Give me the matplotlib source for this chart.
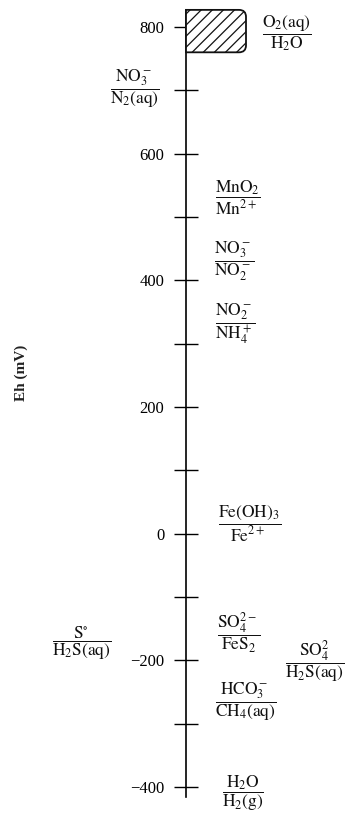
# Redox ladder: Eh (mV) of common redox couples
import matplotlib.pyplot as plt
import numpy as np
from matplotlib.path import Path
from matplotlib.patches import PathPatch

plt.rcParams['font.family'] = ['Liberation Serif', 'DejaVu Serif']
plt.rcParams['mathtext.fontset'] = 'stix'
plt.rcParams['hatch.linewidth'] = 0.9

# Couples: numerator / denominator, Eh where the label sits (mV)
numerators = ['O_2(aq)', 'NO_3^-', 'MnO_2', 'NO_3^-', 'NO_2^-', 'Fe(OH)_3',
              'SO_4^{2-}', 'S^{\\circ}', 'SO_4^2', 'HCO_3^-', 'H_2O']
denominators = ['H_2O', 'N_2(aq)', 'Mn^{2+}', 'NO_2^-', 'NH_4^+', 'Fe^{2+}',
                'FeS_2', 'H_2S(aq)', 'H_2S(aq)', 'CH_4(aq)', 'H_2(g)']
eh_values = [790, 702, 531, 429, 332, 16, -156, -173, -203, -266, -410]
label_x = [287, 135, 238, 234, 235, 250, 239, 82, 315, 246, 243]

# O2(aq)/H2O range shown as hatched box (mV)
o2_range = [760, 827]

# Axis ticks
tick_values = np.arange(-400, 801, 100)
labelled = [800, 600, 400, 200, 0, -200, -400]

fig = plt.figure(figsize=(3.46, 8.16), dpi=100)
ax = fig.add_axes([0, 0, 1, 1])
ax.set_xlim(0, 346)
ax.set_ylim(-445.8, 842.6)

for s in ['top', 'right', 'bottom']:
    ax.spines[s].set_visible(False)
ax.spines['left'].set_position(('data', 186))
ax.spines['left'].set_bounds(-416, o2_range[1])
ax.spines['left'].set_linewidth(1.2)
ax.set_xticks([])
ax.set_yticks(tick_values)
ax.set_yticklabels([str(v).replace('-', '\u2212') if v in labelled else ''
                    for v in tick_values])
ax.tick_params(axis='y', direction='inout', length=17, width=1.0,
               pad=7, labelsize=12)

# hatched O2 box with rounded right corners
x0, x1, r = 186, 246, 7
top, bot = o2_range[1], o2_range[0]
ry = r / 0.633
verts = [(x0, bot), (x0, top), (x1 - r, top), (x1, top), (x1, top - ry),
         (x1, bot + ry), (x1, bot), (x1 - r, bot), (x0, bot)]
codes = [Path.MOVETO, Path.LINETO, Path.LINETO, Path.CURVE3, Path.CURVE3,
         Path.LINETO, Path.CURVE3, Path.CURVE3, Path.CLOSEPOLY]
ax.add_patch(PathPatch(Path(verts, codes), facecolor='white',
                       edgecolor='#111111', hatch='///', linewidth=1.3, zorder=3))

for num, den, y, x in zip(numerators, denominators, eh_values, label_x):
    ax.text(x, y, r'$\dfrac{\mathrm{%s}}{\mathrm{%s}}$' % (num, den),
            ha='center', va='center', fontsize=12.5, color='#111111')

ax.text(21, 254, 'Eh (mV)', rotation=90, ha='center', va='center',
        fontsize=11, fontweight='bold', color='#222222')

fig.savefig('out.png', dpi=100)
